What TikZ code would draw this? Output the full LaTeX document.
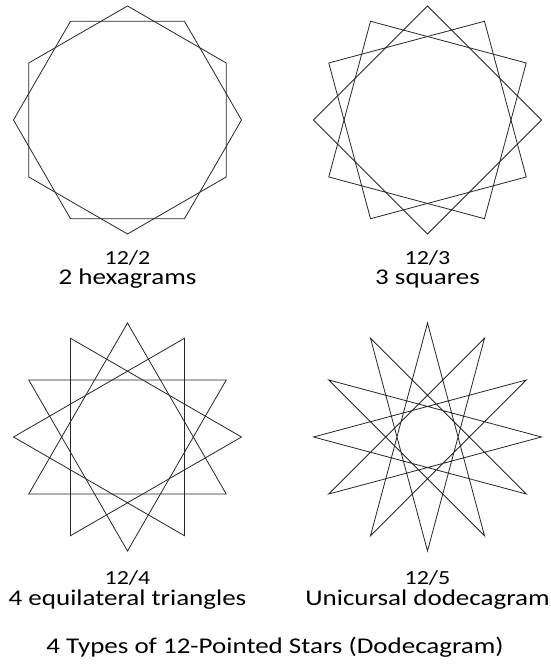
\documentclass[tikz,border=0pt]{standalone}
\usepackage{fontspec}
\setmainfont{Carlito}[FakeStretch=1.2]
\tikzset{
  starline/.style={draw=black!85, line width=0.8pt, line join=miter},
  numlabel/.style={anchor=base, inner sep=0pt, font=\fontsize{20}{24}\selectfont},
  namelabel/.style={anchor=base, inner sep=0pt, font=\fontsize{22.5}{27}\selectfont},
  titlelabel/.style={anchor=base, inner sep=0pt, font=\fontsize{22.5}{27}\selectfont}
}
\begin{document}
\begin{tikzpicture}[x=1pt,y=1pt]
\useasboundingbox (0,0) rectangle (550,668);
% 12/2
\begin{scope}[shift={(127.5,548)}]
  \foreach \i in {0,...,11} \coordinate (a\i) at ({90-30*\i}:114);
  \draw[starline] (a0) -- (a2) -- (a4) -- (a6) -- (a8) -- (a10) -- cycle;
  \draw[starline] (a1) -- (a3) -- (a5) -- (a7) -- (a9) -- (a11) -- cycle;
\end{scope}
% 12/3
\begin{scope}[shift={(427.5,548)}]
  \foreach \i in {0,...,11} \coordinate (b\i) at ({90-30*\i}:114);
  \draw[starline] (b0) -- (b3) -- (b6) -- (b9) -- cycle;
  \draw[starline] (b1) -- (b4) -- (b7) -- (b10) -- cycle;
  \draw[starline] (b2) -- (b5) -- (b8) -- (b11) -- cycle;
\end{scope}
% 12/4
\begin{scope}[shift={(127.5,231)}]
  \foreach \i in {0,...,11} \coordinate (c\i) at ({90-30*\i}:114);
  \draw[starline] (c0) -- (c4) -- (c8) -- cycle;
  \draw[starline] (c1) -- (c5) -- (c9) -- cycle;
  \draw[starline] (c2) -- (c6) -- (c10) -- cycle;
  \draw[starline] (c3) -- (c7) -- (c11) -- cycle;
\end{scope}
% 12/5
\begin{scope}[shift={(427.5,231)}]
  \foreach \i in {0,...,11} \coordinate (d\i) at ({90-30*\i}:114);
  \draw[starline] (d0) -- (d5) -- (d10) -- (d3) -- (d8) -- (d1) -- (d6) -- (d11) -- (d4) -- (d9) -- (d2) -- (d7) -- cycle;
\end{scope}
% labels
\node[numlabel]  (n1) at (127.5,403) {12/2};
\node[namelabel] (t1) at (127.5,383) {2 hexagrams};
\node[numlabel]  (n2) at (427.5,403) {12/3};
\node[namelabel] (t2) at (427.5,383) {3 squares};
\node[numlabel]  (n3) at (127.5,83) {12/4};
\node[namelabel] (t3) at (127.5,62) {4 equilateral triangles};
\node[numlabel]  (n4) at (427.5,83) {12/5};
\node[namelabel] (t4) at (427.5,62) {Unicursal dodecagram};
\node[titlelabel] (title) at (275,14) {4 Types of 12-Pointed Stars (Dodecagram)};
\end{tikzpicture}
\end{document}
